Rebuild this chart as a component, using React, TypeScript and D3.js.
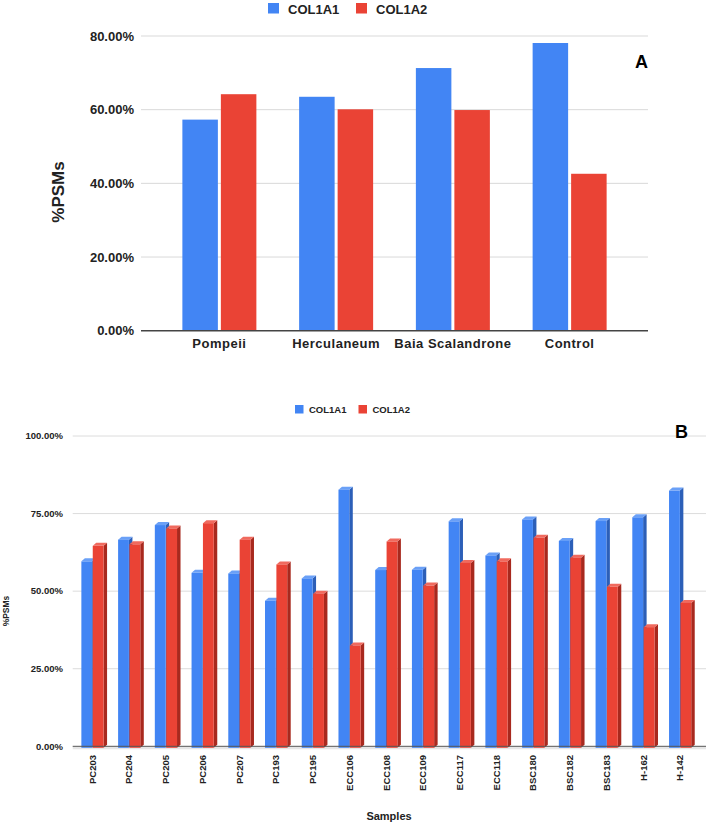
import * as d3 from 'd3';

const seriesNames = ['COL1A1', 'COL1A2'];
const sitesA = ['Pompeii', 'Herculaneum', 'Baia Scalandrone', 'Control'];
const col1a1A = [57.3, 63.5, 71.3, 78.1];
const col1a2A = [64.2, 60.1, 59.9, 42.6];
const ticksA = [0, 20, 40, 60, 80];

const samplesB = [
  'PC203', 'PC204', 'PC205', 'PC206', 'PC207', 'PC193', 'PC195', 'ECC106', 'ECC108',
  'ECC109', 'ECC117', 'ECC118', 'BSC180', 'BSC182', 'BSC183', 'H-162', 'H-142'
];
const col1a1B = [59.6, 66.6, 71.3, 55.9, 55.7, 46.9, 54.1, 82.7, 56.8, 56.9, 72.5, 61.5, 73.1, 66.2, 72.6, 73.8, 82.4];
const col1a2B = [64.6, 65.1, 70.2, 71.9, 66.6, 58.6, 49.2, 32.5, 66.0, 51.8, 59.1, 59.6, 67.2, 60.8, 51.4, 38.4, 46.2];
const ticksB = [0, 25, 50, 75, 100];

const FONT = '"Liberation Sans", Arial, sans-serif';
const BLUE = '#4285f4';
const RED = '#ea4335';
const shade = {
  [BLUE]: { side: '#2c5fb8', top: '#6aa0f7' },
  [RED]: { side: '#a8291e', top: '#f06a5e' }
};
const pct = (v: number) => `${v.toFixed(2)}%`;

function ChartA() {
  const left = 141;
  const right = 648;
  const y = d3.scaleLinear().domain([0, 80]).range([330.7, 36]);
  const x = d3.scaleBand<string>().domain(sitesA).range([161, 628]);
  const inner = d3.scaleBand<string>().domain(seriesNames).range([-37, 37]).paddingInner(0.078);
  const series = [col1a1A, col1a2A];
  const colors = [BLUE, RED];

  return (
    <g fontFamily={FONT} fontWeight="bold">
      {ticksA.map((t) => (
        <g key={t}>
          {t > 0 && <line x1={left} x2={right} y1={y(t)} y2={y(t)} stroke="#d9d9d9" strokeWidth={1} />}
          <text x={134} y={y(t)} dy="0.35em" textAnchor="end" fontSize={13} fill="#222">
            {pct(t)}
          </text>
        </g>
      ))}
      {sitesA.map((s, i) => {
        const c = (x(s) ?? 0) + x.bandwidth() / 2;
        return (
          <g key={s}>
            {series.map((vals, k) => (
              <rect
                key={k}
                x={c + (inner(seriesNames[k]) ?? 0)}
                y={y(vals[i])}
                width={inner.bandwidth()}
                height={y(0) - y(vals[i])}
                fill={colors[k]}
              />
            ))}
            <text x={c} y={348} textAnchor="middle" fontSize={13} letterSpacing={0.5} fill="#222">
              {s}
            </text>
          </g>
        );
      })}
      <line x1={left} x2={right} y1={y(0)} y2={y(0)} stroke="#444" strokeWidth={1.5} />
      <text transform={`translate(64,192) rotate(-90)`} textAnchor="middle" fontSize={17} fill="#222">
        %PSMs
      </text>
      <text x={648} y={68} textAnchor="end" fontSize={18} fill="#000">
        A
      </text>
      {seriesNames.map((n, k) => (
        <g key={n} transform={`translate(${k === 0 ? 268 : 356},3)`}>
          <rect width={11} height={10.5} fill={colors[k]} />
          <text x={20} y={10.5} fontSize={13} fill="#222">
            {n}
          </text>
        </g>
      ))}
    </g>
  );
}

function ChartB() {
  const left = 72.7;
  const right = 706;
  const y = d3.scaleLinear().domain([0, 100]).range([746.3, 436]);
  const x = d3.scaleBand<string>().domain(samplesB).range([74, 698.4]);
  const inner = d3.scaleBand<string>().domain(seriesNames).range([-11, 11.2]).paddingInner(0.05);
  const series = [col1a1B, col1a2B];
  const colors = [BLUE, RED];
  const dx = 3.5;
  const dy = 3;

  return (
    <g fontFamily={FONT} fontWeight="bold">
      <rect x={left} y={y(0)} width={right - left} height={3} fill="#e6e6e6" />
      {ticksB.map((t) => (
        <g key={t}>
          {t > 0 && <line x1={left} x2={right} y1={y(t)} y2={y(t)} stroke="#dcdcdc" strokeWidth={1} />}
          <text x={63} y={y(t)} dy="0.35em" textAnchor="end" fontSize={9.5} fill="#222">
            {pct(t)}
          </text>
        </g>
      ))}
      {samplesB.map((s, i) => {
        const c = (x(s) ?? 0) + x.bandwidth() / 2;
        return (
          <g key={s}>
            {series.map((vals, k) => {
              const x0 = c + (inner(seriesNames[k]) ?? 0);
              const w = inner.bandwidth();
              const top = y(vals[i]);
              const base = y(0) + 1.5;
              const col = colors[k];
              return (
                <g key={k}>
                  <path
                    d={`M${x0 + w},${top} L${x0 + w + dx},${top - dy} L${x0 + w + dx},${base - dy} L${x0 + w},${base} Z`}
                    fill={shade[col].side}
                  />
                  <path
                    d={`M${x0},${top} L${x0 + dx},${top - dy} L${x0 + w + dx},${top - dy} L${x0 + w},${top} Z`}
                    fill={shade[col].top}
                  />
                  <rect x={x0} y={top} width={w} height={base - top} fill={col} />
                </g>
              );
            })}
            <text
              transform={`translate(${c},755) rotate(-90)`}
              dy="0.35em"
              textAnchor="end"
              fontSize={9.5}
              fill="#222"
            >
              {s}
            </text>
          </g>
        );
      })}
      <line x1={left} x2={right} y1={y(0)} y2={y(0)} stroke="#555" strokeWidth={1} />
      <text transform={`translate(9,611) rotate(-90)`} textAnchor="middle" fontSize={8.5} fill="#222">
        %PSMs
      </text>
      <text x={389} y={820} textAnchor="middle" fontSize={11} fill="#222">
        Samples
      </text>
      <text x={688} y={438} textAnchor="end" fontSize={18} fill="#000">
        B
      </text>
      {seriesNames.map((n, k) => (
        <g key={n} transform={`translate(${k === 0 ? 295 : 358.5},405)`}>
          <rect width={8.5} height={8.5} fill={colors[k]} />
          <text x={14} y={8.3} fontSize={9.5} fill="#222">
            {n}
          </text>
        </g>
      ))}
    </g>
  );
}

export default function App() {
  return (
    <svg
      width={708}
      height={824}
      style={{ position: 'absolute', left: 0, top: 0, background: '#fff' }}
    >
      <rect width={708} height={824} fill="#fff" />
      <ChartA />
      <ChartB />
    </svg>
  );
}
